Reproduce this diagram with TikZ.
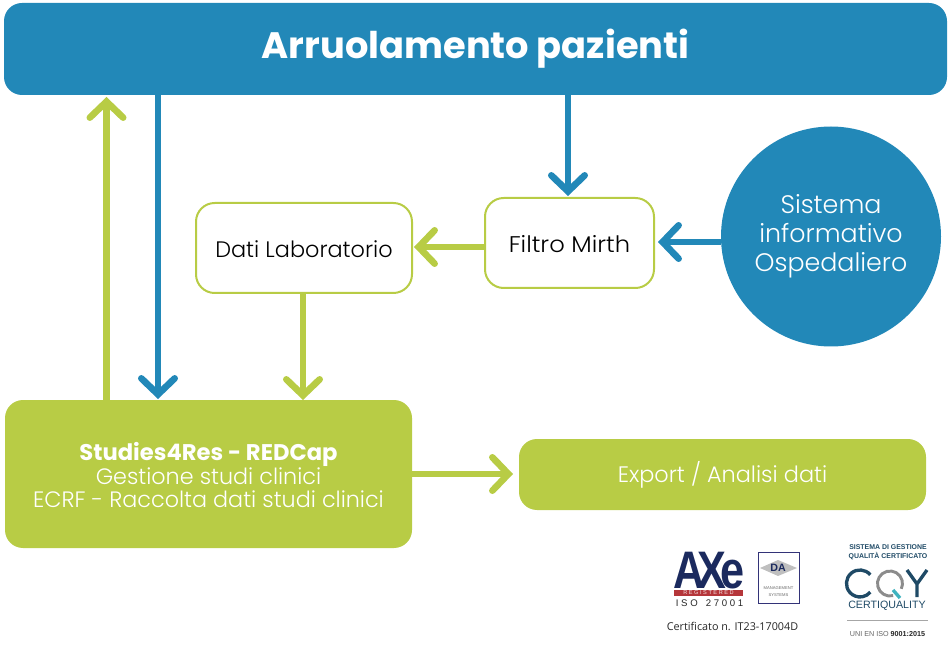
\documentclass[tikz,border=0pt]{standalone}
\usepackage{fontspec}
\setmainfont{Poppins}[UprightFont=* Light,BoldFont=* Bold]
\newfontfamily\wide{Poppins Light}[FakeStretch=1.07]
\newfontfamily\opens{Open Sans}
\newfontfamily\heros{Liberation Sans}
\usetikzlibrary{arrows.meta,calc}
\definecolor{bluec}{HTML}{2288B8}
\definecolor{greenc}{HTML}{B8CC45}
\definecolor{navyc}{HTML}{1B2A5E}
\definecolor{cqblue}{HTML}{1F4A66}
\definecolor{cqteal}{HTML}{3FB3BF}
\definecolor{redc}{HTML}{B5363A}
\tikzset{
  x=0.75pt,y=-0.75pt,
  solidbar/.style={rounded corners=13.5pt,inner sep=0pt,outer sep=0pt,align=center,text=white},
  outlinebox/.style={rounded corners=14pt,draw=greenc,line width=1.5pt,fill=white,inner sep=0pt,outer sep=0pt,align=center,text=black},
  bluearrow/.style={draw=bluec,line width=5pt,-{Straight Barb[length=12pt,width=25pt,line cap=round]}},
  greenarrow/.style={draw=greenc,line width=5pt,-{Straight Barb[length=12pt,width=25pt,line cap=round]}},
  logotext/.style={inner sep=0pt,outer sep=0pt,align=center}
}
\begin{document}
\begin{tikzpicture}
\useasboundingbox (0,0) rectangle (950,645);
\node[solidbar,fill=bluec,minimum width=943*0.75pt,minimum height=92*0.75pt,font=\bfseries\fontsize{27.6}{32}\selectfont] (top) at (475.5,49) {Arruolamento pazienti};
\node[circle,fill=bluec,minimum size=220*0.75pt,inner sep=0pt,outer sep=0pt,align=center,text=white,font=\fontsize{19}{21.7}\selectfont] (sio) at (831,236.5) {Sistema\\informativo\\Ospedaliero};
\node[outlinebox,minimum width=169*0.75pt,minimum height=90*0.75pt,font=\wide\fontsize{17}{18}\selectfont] (filtro) at (569.5,243) {\rule{0pt}{14.2pt}Filtro Mirth};
\node[outlinebox,minimum width=216*0.75pt,minimum height=90*0.75pt,font=\fontsize{16.8}{18}\selectfont] (dati) at (304,248) {\rule{0pt}{14.2pt}Dati Laboratorio};
\node[solidbar,fill=greenc,minimum width=407*0.75pt,minimum height=148*0.75pt,font=\fontsize{16.7}{17.5}\selectfont] (s4r) at (208.5,474) {\rule{0pt}{15pt}\raisebox{-0.5pt}{\fontsize{17}{17.5}\selectfont\bfseries Studies4Res - REDCap}\\Gestione studi clinici\\ECRF - Raccolta dati studi clinici};
\node[solidbar,fill=greenc,minimum width=407*0.75pt,minimum height=71*0.75pt,font=\fontsize{16.8}{18}\selectfont] (exp) at (722.5,474.5) {Export / Analisi dati};
% connectors
\draw[greenarrow] ($(s4r.north west)+(101.5,0)$) -- ($(top.south west)+(102.5,2)$);
\draw[bluearrow] ($(top.south west)+(154,0)$) -- ($(s4r.north west)+(153,-1)$);
\draw[bluearrow] ($(top.south west)+(564,0)$) -- ($(filtro.north)+(-1.5,-2)$);
\draw[bluearrow] (sio.west |- {$(filtro.east)+(0,-1)$}) -- ($(filtro.east)+(4,-1)$);
\draw[greenarrow] ($(filtro.west)+(0,4)$) -- ($(dati.east)+(2,-1)$);
\draw[greenarrow] ($(dati.south)+(-1,0)$) -- ($(s4r.north west)+(298,0)$);
\draw[greenarrow] (s4r.east) -- ($(s4r.east -| exp.west)+(-6,0)$);
% AXE logo
\node[logotext,text=navyc,font=\heros\bfseries\fontsize{36}{36}\selectfont,xscale=0.9,yscale=1.1] (axe) at (709,571) {A\kern-6pt X\kern-5pt e};
\node[logotext,fill=redc,text=white!85!redc,minimum width=69*0.75pt,minimum height=6.5*0.75pt,font=\heros\fontsize{4.2}{4.2}\selectfont] (reg) at (708.5,593) {R E G I S T E R E D};
\node[logotext,text=black!85,font=\heros\fontsize{7.2}{8}\selectfont] (iso) at (709.5,603.5) {I S O\ \ \ 2 7 0 0 1};
\node[draw=black!55!blue!60!gray,line width=0.7pt,minimum width=41*0.75pt,minimum height=51*0.75pt,inner sep=0pt,outer sep=0pt] (dabox) at (778.5,577.5) {};
\path[fill=black!25] (760,568) -- (778,560) -- (797,568) -- (778,576) -- cycle;
\node[logotext,text=navyc,font=\heros\bfseries\fontsize{8}{8}\selectfont] (da) at (778,568) {DA};
\node[logotext,text=black!60,font=\heros\fontsize{3.1}{5.2}\selectfont] (ms) at (778.5,592) {MANAGEMENT\\SYSTEMS};
\node[logotext,text=black!85,font=\opens\fontsize{8.1}{9}\selectfont] (cert) at (732.5,626) {Certificato n. IT23-17004D};
% CQY logo
\node[logotext,text=cqblue,font=\heros\bfseries\fontsize{5.2}{6.75}\selectfont] (sg) at (888,552.5) {SISTEMA DI GESTIONE\\QUALITÀ CERTIFICATO};
\draw[cqblue,line width=2.5pt] (870.3,574.8) arc[start angle=-40,end angle=-320,radius=13.5];
\draw[black!45,line width=2.2pt] (893.2,595.6) arc[start angle=75,end angle=385,radius=12.5];
\draw[cqteal,line width=2.5pt] (893,590) -- (900,598);
\draw[cqblue,line width=2.5pt] (907,570) -- (917,584) -- (927,570) (917,584) -- (917,597);
\node[logotext,text=cqblue,font=\heros\fontsize{8}{8}\selectfont] (cq) at (887,605.5) {CERTIQUALITY};
\coordinate (la) at (847,620);
\coordinate (lb) at (928,620);
\draw[black!35,line width=0.7pt] (la) -- (lb);
\node[logotext,text=black!60,font=\heros\fontsize{5.4}{7}\selectfont] (uni) at (887.5,634) {UNI EN ISO {\bfseries\color{black!85}9001:2015}};
\end{tikzpicture}
\end{document}
